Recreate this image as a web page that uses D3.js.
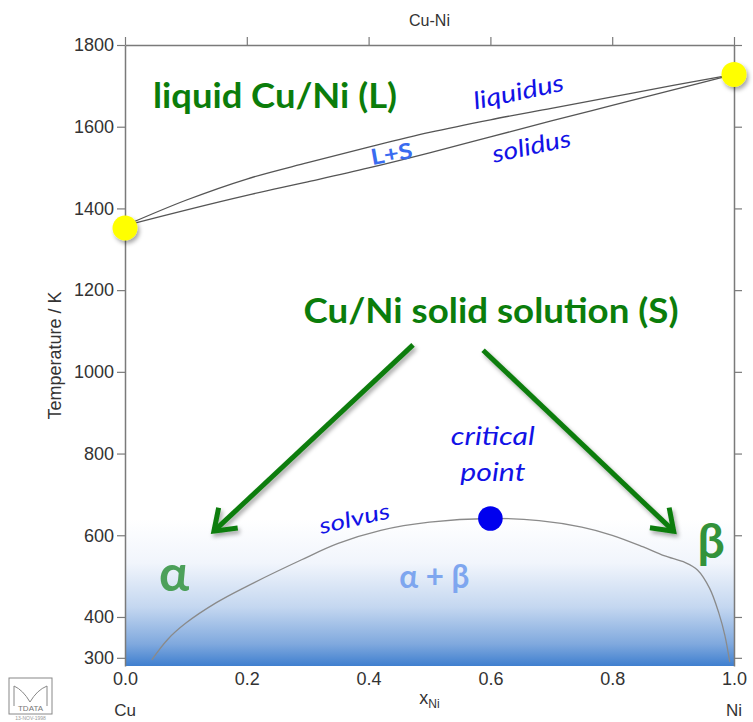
<!DOCTYPE html>
<html>
<head>
<meta charset="utf-8">
<script src="https://cdn.jsdelivr.net/npm/d3@7"></script>
<style>
body { margin: 0; background: #fff; }
svg { display: block; }
</style>
</head>
<body>
<div id="a"></div>
<script>
// phase boundaries (x = mole fraction Ni, T in K)
var liqX    = [0, 0.1, 0.2, 0.3, 0.4, 0.5, 0.6, 0.7, 0.8, 0.9, 1.0],
	liqT    = [1358, 1420, 1472, 1512, 1550, 1586, 1617, 1645, 1673, 1701, 1728],
	solT    = [1358, 1396, 1432, 1465, 1499, 1536, 1575, 1614, 1652, 1690, 1728];

var solvusX = [0.044, 0.07, 0.10, 0.15, 0.20, 0.29, 0.35, 0.42, 0.50, 0.60, 0.68, 0.75, 0.80, 0.85, 0.885, 0.92, 0.94, 0.96, 0.975, 0.985, 0.993],
	solvusT = [295, 345, 385, 435, 475, 540, 580, 612, 632, 641, 636, 620, 600, 572, 550, 533, 515, 470, 410, 355, 290];

var meltPts    = [[0, 1352], [1, 1728]],
	critPt     = [0.6, 641];

var yTicks     = [300, 400, 600, 800, 1000, 1200, 1400, 1600, 1800],
	xTicks     = [0, 0.2, 0.4, 0.6, 0.8, 1.0];

// arrows from the "solid solution" label down to alpha and beta
var arrows = [[0.473, 1066, 0.146, 610], [0.588, 1053, 0.901, 610]];

var w = 753, h = 722,
	m = {l: 125, r: 19, t: 45, b: 56};

var x = d3.scaleLinear().domain([0, 1]).range([m.l, w - m.r]),
	y = d3.scaleLinear().domain([280, 1800]).range([h - m.b, m.t]);

var svg = d3.select("#a").append("svg")
	.attr("width", w)
	.attr("height", h)
	.style("font-family", "'Liberation Sans', Arial, sans-serif");

var defs = svg.append("defs");
var grad = defs.append("linearGradient")
	.attr("id", "blue")
	.attr("x1", 0).attr("y1", 0).attr("x2", 0).attr("y2", 1);
grad.append("stop").attr("offset", "0%").attr("stop-color", "#ffffff");
grad.append("stop").attr("offset", "30%").attr("stop-color", "#f1f5fc");
grad.append("stop").attr("offset", "60%").attr("stop-color", "#c4d7f0");
grad.append("stop").attr("offset", "85%").attr("stop-color", "#80a9de");
grad.append("stop").attr("offset", "100%").attr("stop-color", "#3f7fcf");

defs.append("filter").attr("id", "shadow")
	.attr("x", "-30%").attr("y", "-30%").attr("width", "160%").attr("height", "160%")
	.append("feDropShadow")
	.attr("dx", 2).attr("dy", 3).attr("stdDeviation", 2)
	.attr("flood-color", "#000").attr("flood-opacity", 0.35);

// gradient band at the bottom of the plot
svg.append("rect")
	.attr("x", x(0)).attr("width", x(1) - x(0))
	.attr("y", y(640)).attr("height", y(280) - y(640))
	.attr("fill", "url(#blue)");

// axes
var axisCol = "#7a7a7a";
function styleAxis(g) {
	g.selectAll(".domain").attr("stroke", axisCol).attr("stroke-width", 1.5);
	g.selectAll(".tick line").attr("stroke", axisCol).attr("stroke-width", 1.2);
	g.selectAll("text").attr("fill", "#333").style("font-size", "18px");
}

svg.append("g")
	.attr("transform", "translate(" + m.l + ",0)")
	.call(d3.axisLeft(y).tickValues(yTicks).tickSize(8).tickSizeOuter(0).tickPadding(3).tickFormat(d3.format("d")))
	.call(styleAxis);

svg.append("g")
	.attr("transform", "translate(" + (w - m.r) + ",0)")
	.call(d3.axisRight(y).tickValues(yTicks).tickSize(8).tickSizeOuter(0).tickFormat(""))
	.call(styleAxis);

svg.append("g")
	.attr("transform", "translate(0," + m.t + ")")
	.call(d3.axisTop(x).tickValues(xTicks).tickSize(8).tickSizeOuter(0).tickFormat(""))
	.call(styleAxis);

var bottom = svg.append("g")
	.attr("transform", "translate(0," + (h - m.b) + ")")
	.call(d3.axisBottom(x).tickValues(xTicks).tickSize(0).tickPadding(6).tickFormat(d3.format(".1f")))
	.call(styleAxis);
bottom.select(".domain").remove();

// axis titles
svg.append("text")
	.attr("x", x(0.5)).attr("y", 26)
	.attr("text-anchor", "middle").attr("fill", "#333")
	.style("font-size", "16px")
	.text("Cu-Ni");

svg.append("text")
	.attr("transform", "translate(61," + y(1040) + ") rotate(-90)")
	.attr("text-anchor", "middle").attr("fill", "#333")
	.style("font-size", "18px")
	.text("Temperature / K");

var xl = svg.append("text")
	.attr("x", x(0.5)).attr("y", 704)
	.attr("text-anchor", "middle").attr("fill", "#333")
	.style("font-size", "18px");
xl.append("tspan").text("x");
xl.append("tspan").attr("dy", 4).style("font-size", "12px").text("Ni");

svg.append("text").attr("x", x(0)).attr("y", 716)
	.attr("text-anchor", "middle").attr("fill", "#333").style("font-size", "17px").text("Cu");
svg.append("text").attr("x", x(1)).attr("y", 716)
	.attr("text-anchor", "middle").attr("fill", "#333").style("font-size", "17px").text("Ni");

// phase boundary lines
var line = d3.line()
	.curve(d3.curveCatmullRom.alpha(0.5))
	.x(function(d) { return x(d[0]); })
	.y(function(d) { return y(d[1]); });

svg.append("path")
	.attr("d", line(d3.zip(liqX, liqT)))
	.attr("fill", "none").attr("stroke", "#555").attr("stroke-width", 1.3);
svg.append("path")
	.attr("d", line(d3.zip(liqX, solT)))
	.attr("fill", "none").attr("stroke", "#555").attr("stroke-width", 1.3);
svg.append("path")
	.attr("d", line(d3.zip(solvusX, solvusT)))
	.attr("fill", "none").attr("stroke", "#8a8a8a").attr("stroke-width", 1.3);

// melting points and critical point
svg.selectAll(".melt")
	.data(meltPts)
	.enter().append("circle")
	.attr("class", "melt")
	.attr("cx", function(d) { return x(d[0]); })
	.attr("cy", function(d) { return y(d[1]); })
	.attr("r", 12.5)
	.attr("fill", "#ffff00")
	.attr("filter", "url(#shadow)");

svg.append("circle")
	.attr("cx", x(critPt[0])).attr("cy", y(critPt[1]))
	.attr("r", 12.3)
	.attr("fill", "#0000ee");

// arrows
var green = "#0b7d0b";
arrows.forEach(function(a) {
	var x1 = x(a[0]), y1 = y(a[1]), x2 = x(a[2]), y2 = y(a[3]);
	var ang = Math.atan2(y2 - y1, x2 - x1), len = 24, spread = 0.62;
	var g = svg.append("g").attr("filter", "url(#shadow)");
	g.append("line")
		.attr("x1", x1).attr("y1", y1).attr("x2", x2).attr("y2", y2)
		.attr("stroke", green).attr("stroke-width", 5);
	g.append("path")
		.attr("d", "M" + (x2 - len * Math.cos(ang - spread)) + "," + (y2 - len * Math.sin(ang - spread)) +
			"L" + x2 + "," + y2 +
			"L" + (x2 - len * Math.cos(ang + spread)) + "," + (y2 - len * Math.sin(ang + spread)))
		.attr("fill", "none").attr("stroke", green).attr("stroke-width", 5)
		.attr("stroke-linejoin", "miter");
});

// labels
var lab = "'Lato', 'Open Sans', sans-serif";
function label(t, xv, tv, opt) {
	var el = svg.append("text")
		.attr("transform", "translate(" + x(xv) + "," + y(tv) + ") rotate(" + (opt.rot || 0) + ")")
		.attr("text-anchor", opt.anchor || "start")
		.attr("fill", opt.fill)
		.style("font-family", lab)
		.style("font-size", opt.size + "px")
		.style("font-weight", opt.bold ? "bold" : "normal")
		.style("font-style", opt.italic ? "italic" : "normal")
		.text(t);
	if (opt.len) el.attr("textLength", opt.len).attr("lengthAdjust", "spacingAndGlyphs");
	return el;
}

label("liquid Cu/Ni (L)", 0.046, 1646, {fill: green, size: 34, bold: true, len: 244});
label("Cu/Ni solid solution (S)", 0.601, 1119, {fill: green, size: 34, bold: true, anchor: "middle", len: 375});
label("liquidus", 0.575, 1642, {fill: "#1212e6", size: 24, italic: true, rot: -12, len: 92});
label("solidus", 0.606, 1512, {fill: "#1212e6", size: 24, italic: true, rot: -12, len: 80});
label("L+S", 0.406, 1506, {fill: "#3a6cf0", size: 22, bold: true, rot: -10, len: 42});
label("critical", 0.604, 821, {fill: "#1212e6", size: 25, italic: true, anchor: "middle", len: 84});
label("point", 0.604, 733, {fill: "#1212e6", size: 25, italic: true, anchor: "middle", len: 65});
label("solvus", 0.322, 603, {fill: "#1212e6", size: 22, italic: true, rot: -13, len: 72});
label("α", 0.056, 463, {fill: "#4ca05a", size: 50, bold: true});
label("β", 0.94, 545, {fill: "#33923a", size: 48, bold: true});
label("α + β", 0.508, 472, {fill: "#7ea6ef", size: 32, bold: true, anchor: "middle", len: 70});

// small TDATA stamp bottom left
var logo = svg.append("g").attr("transform", "translate(9,678)");
logo.append("rect").attr("width", 43).attr("height", 36)
	.attr("fill", "none").attr("stroke", "#888").attr("stroke-width", 1);
logo.append("path")
	.attr("d", "M5,28 L5,8 Q14,12 21,24 Q28,12 38,8 L38,28")
	.attr("fill", "none").attr("stroke", "#888").attr("stroke-width", 1);
logo.append("text").attr("x", 21.5).attr("y", 33).attr("text-anchor", "middle")
	.attr("fill", "#777").style("font-size", "8px").text("TDATA");
logo.append("text").attr("x", 21.5).attr("y", 42).attr("text-anchor", "middle")
	.attr("fill", "#999").style("font-size", "5px").text("13-NOV-1998");
</script>
</body>
</html>
